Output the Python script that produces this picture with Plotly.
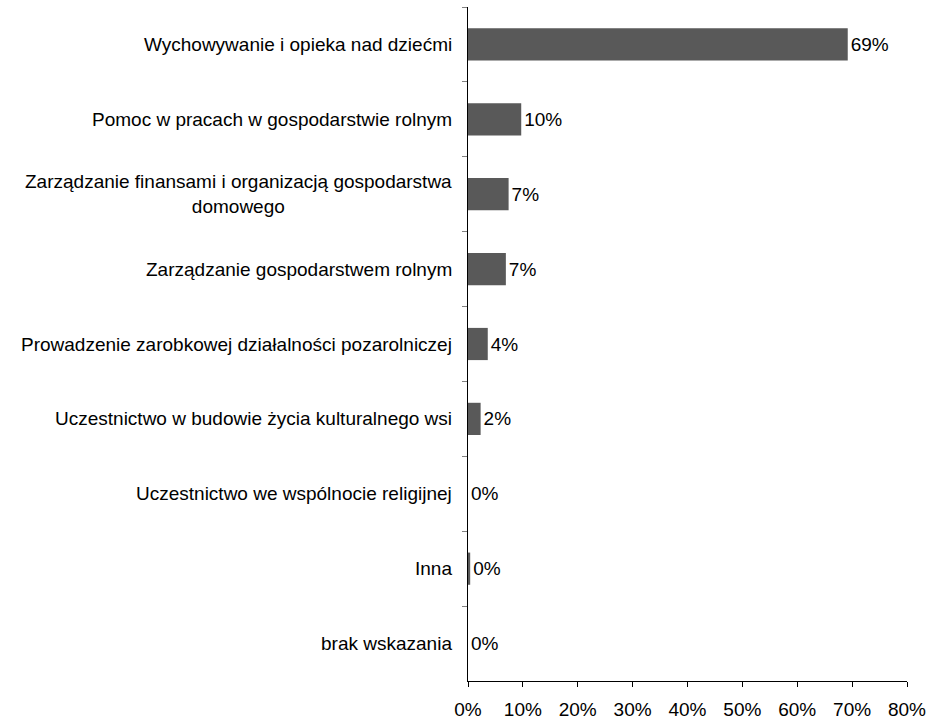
import plotly.graph_objects as go

# Survey answers, listed top to bottom
categories = [
    "Wychowywanie i opieka nad dziećmi",
    "Pomoc w pracach w gospodarstwie rolnym",
    "Zarządzanie finansami i organizacją gospodarstwa<br>domowego",
    "Zarządzanie gospodarstwem rolnym",
    "Prowadzenie zarobkowej działalności pozarolniczej",
    "Uczestnictwo w budowie życia kulturalnego wsi",
    "Uczestnictwo we wspólnocie religijnej",
    "Inna",
    "brak wskazania",
]
shares = [69.2, 9.7, 7.4, 6.9, 3.6, 2.3, 0.0, 0.4, 0.0]

x_ticks = [0, 10, 20, 30, 40, 50, 60, 70, 80]

FONT = "Liberation Sans, Arial, sans-serif"
FS = 19

fig = go.Figure(
    go.Bar(
        x=shares,
        y=categories,
        orientation="h",
        marker=dict(color="#595959", line=dict(width=0)),
        texttemplate="%{x:.0f}%",
        textposition="outside",
        textfont=dict(family=FONT, size=FS, color="#000000"),
        cliponaxis=False,
        hoverinfo="skip",
    )
)

# Category labels as annotations so wrapped lines stay centred
for cat in categories:
    fig.add_annotation(
        x=0, xref="paper", y=cat, yref="y",
        text=cat, showarrow=False,
        xanchor="right", yanchor="middle", align="center",
        xshift=-14,
        font=dict(family=FONT, size=FS, color="#000000"),
    )

fig.update_layout(
    width=938,
    height=721,
    margin=dict(l=468, r=31, t=7, b=40),
    paper_bgcolor="white",
    plot_bgcolor="white",
    bargap=0.57,
    showlegend=False,
    font=dict(family=FONT, size=FS, color="#000000"),
)

fig.update_xaxes(
    range=[0, 80],
    tickvals=x_ticks,
    ticktext=[f"{v}%" for v in x_ticks],
    showgrid=False,
    zeroline=False,
    showline=True,
    linecolor="#000000",
    linewidth=1,
    ticks="outside",
    ticklen=5,
    tickcolor="#000000",
    ticklabelstandoff=6,
    automargin=False,
    tickfont=dict(family=FONT, size=FS, color="#000000"),
)

fig.update_yaxes(
    type="category",
    categoryorder="array",
    categoryarray=categories,
    autorange="reversed",
    showticklabels=False,
    showgrid=False,
    zeroline=False,
    showline=True,
    linecolor="#000000",
    linewidth=1,
    ticks="outside",
    tickson="boundaries",
    ticklen=5,
    tickcolor="#808080",
    automargin=False,
)

fig.write_html("out.html")
